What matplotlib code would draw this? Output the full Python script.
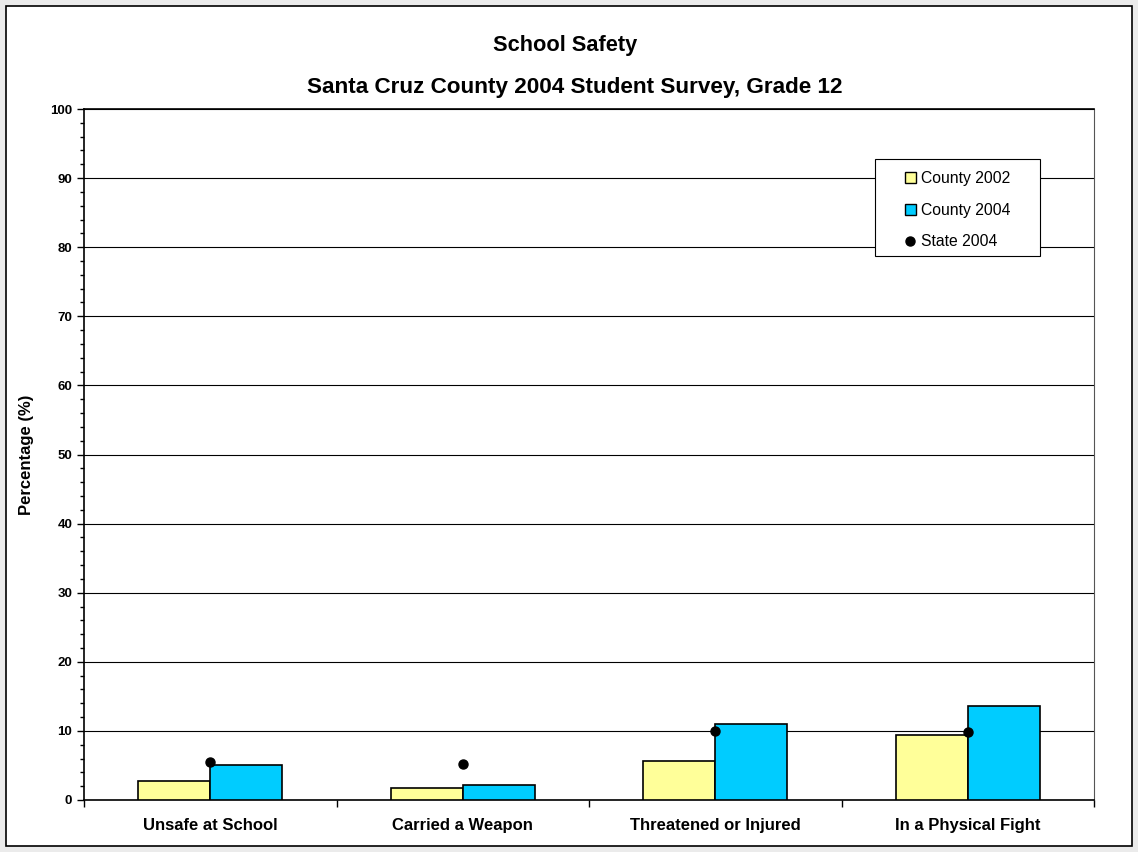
import matplotlib
matplotlib.use('Agg')
import matplotlib.pyplot as plt
import numpy as np
from matplotlib.patches import Patch, Rectangle
from matplotlib.lines import Line2D
from matplotlib.ticker import MultipleLocator, FixedLocator

plt.rcParams['font.family'] = ['Liberation Sans', 'DejaVu Sans']

categories = ['Unsafe at School', 'Carried a Weapon', 'Threatened or Injured', 'In a Physical Fight']
county_2002 = [2.8, 1.8, 5.6, 9.4]
county_2004 = [5.0, 2.1, 11.0, 13.6]
state_2004 = [5.5, 5.2, 10.0, 9.8]

W, H = 1138, 852
fig = plt.figure(figsize=(W / 100, H / 100), dpi=100)
fig.patch.set_facecolor('#ebebeb')
# white chart area with border, kept behind the axes
fig.patches.append(Rectangle((6 / W, 6 / H), 1126 / W, 840 / H,
                             transform=fig.transFigure, facecolor='white',
                             edgecolor='black', linewidth=1.2, zorder=-10))

ax = fig.add_axes([84 / W, 52 / H, 1010 / W, 691 / H])
ax.set_facecolor('white')

x = np.arange(len(categories))
w = 0.285
ax.bar(x - w / 2, county_2002, w, color='#ffff99', edgecolor='black', linewidth=1.2, zorder=3)
ax.bar(x + w / 2, county_2004, w, color='#00ccff', edgecolor='black', linewidth=1.2, zorder=3)
ax.plot(x, state_2004, 'o', color='black', markersize=6.5, zorder=4, linestyle='none')

ax.set_xlim(-0.5, len(categories) - 0.5)
ax.set_ylim(0, 100)
ax.yaxis.set_major_locator(MultipleLocator(10))
ax.yaxis.set_minor_locator(MultipleLocator(2))
ax.grid(axis='y', which='major', color='black', linewidth=0.8, zorder=1)

ax.set_xticks(x)
ax.set_xticklabels(categories, fontsize=12, fontweight='bold')
ax.tick_params(axis='x', which='major', length=0, pad=13)
ax.xaxis.set_minor_locator(FixedLocator(np.arange(-0.5, len(categories), 1.0)))
ax.tick_params(axis='x', which='minor', length=5, direction='out', width=1)
ax.tick_params(axis='y', which='major', length=5, width=1, labelsize=9.5)
ax.tick_params(axis='y', which='minor', length=3, width=1)
for lbl in ax.get_yticklabels():
    lbl.set_fontweight('bold')

for s in ax.spines.values():
    s.set_linewidth(1.2)
ax.spines['right'].set_linewidth(0.8)
ax.spines['right'].set_color('#555555')

ax.set_ylabel('Percentage (%)', fontsize=12, fontweight='bold')
ax.yaxis.set_label_coords((34 - 84) / 1010, 0.5)

fig.text(565 / W, 1 - 51 / H, 'School Safety', ha='center', va='baseline',
         fontsize=15.7, fontweight='bold')
fig.text(574.5 / W, 1 - 93.5 / H, 'Santa Cruz County 2004 Student Survey, Grade 12',
         ha='center', va='baseline', fontsize=16.2, fontweight='bold')

# legend box (frame drawn separately so the padding matches the original)
bx0, bx1 = (875 - 84) / 1010, (1040 - 84) / 1010
by0, by1 = (800 - 256) / 691, (800 - 159) / 691
ax.add_patch(Rectangle((bx0, by0), bx1 - bx0, by1 - by0, transform=ax.transAxes,
                       facecolor='white', edgecolor='black', linewidth=0.8, zorder=5))
handles = [
    Patch(facecolor='#ffff99', edgecolor='black', linewidth=1),
    Patch(facecolor='#00ccff', edgecolor='black', linewidth=1),
    Line2D([], [], marker='o', color='black', linestyle='none', markersize=6.5),
]
leg = ax.legend(handles, ['County 2002', 'County 2004', 'State 2004'],
                loc='center', bbox_to_anchor=((bx0 + bx1) / 2, (by0 + by1) / 2 - 0.004),
                fontsize=11.3, frameon=False, handlelength=0.7, handleheight=0.7,
                handletextpad=0.3, labelspacing=1.05, borderpad=0, borderaxespad=0)
leg.set_zorder(6)

fig.savefig('out.png', dpi=100, facecolor=fig.get_facecolor())
